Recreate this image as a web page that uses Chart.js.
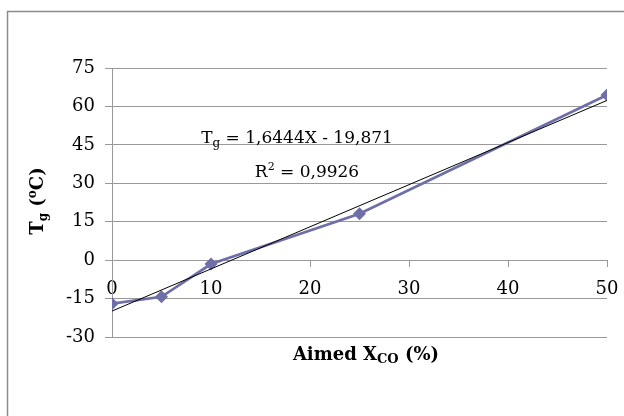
<!DOCTYPE html>
<html>
<head>
<meta charset="utf-8">
<script src="https://cdn.jsdelivr.net/npm/chart.js@4/dist/chart.umd.min.js"></script>
<style>
  html, body { margin: 0; padding: 0; background: #ffffff; }
  #wrap { width: 624px; height: 416px; position: relative; }
</style>
</head>
<body>
<div id="wrap"><canvas id="chart" width="624" height="416"></canvas></div>
<script>
// Measured glass transition temperature against aimed CO content
const aimedXco = [0, 5, 10, 25, 50];
const tgValues = [-17.0, -14.3, -1.5, 18.1, 64.5];

// Linear trendline as stated in the equation label
const trendSlope = 1.6444;
const trendIntercept = -19.871;
const trendRange = [0, 50];
const rSquared = '0,9926';

const yTicks = [-30, -15, 0, 15, 30, 45, 60, 75];
const xTicks = [0, 10, 20, 30, 40, 50];

const SERIF = '"DejaVu Serif", Georgia, serif';
const GRID = '#9a9a9a';
const SERIES = '#6e6ea8';

const trendPoints = trendRange.map(x => ({ x: x, y: trendSlope * x + trendIntercept }));
const seriesPoints = aimedXco.map((x, i) => ({ x: x, y: tgValues[i] }));

function fmtComma(n) { return String(n).replace('.', ','); }

// Draws a run of text pieces with their own size / baseline shift
function drawRich(ctx, parts, cx, cy, weight) {
  let total = 0;
  parts.forEach(p => {
    ctx.font = weight + ' ' + p.size + 'px ' + SERIF;
    p.w = ctx.measureText(p.t).width;
    total += p.w;
  });
  let x = cx - total / 2;
  ctx.textAlign = 'left';
  ctx.textBaseline = 'alphabetic';
  parts.forEach(p => {
    ctx.font = weight + ' ' + p.size + 'px ' + SERIF;
    ctx.fillText(p.t, x, cy + (p.dy || 0));
    x += p.w;
  });
}

const decorations = {
  id: 'decorations',
  beforeDraw(chart) {
    const ctx = chart.ctx;
    ctx.save();
    ctx.strokeStyle = '#8c8c8c';
    ctx.lineWidth = 1.5;
    ctx.beginPath();
    ctx.moveTo(7.5, 430);
    ctx.lineTo(7.5, 11.5);
    ctx.lineTo(640, 11.5);
    ctx.stroke();
    ctx.restore();
  },
  afterDraw(chart) {
    const ctx = chart.ctx;
    ctx.save();
    ctx.fillStyle = '#000000';
    // trendline equation
    drawRich(ctx, [
      { t: 'T', size: 17 },
      { t: 'g', size: 12, dy: 4 },
      { t: ' = ' + fmtComma(trendSlope) + 'X - ' + fmtComma(-trendIntercept), size: 17 }
    ], 297, 143, 'normal');
    drawRich(ctx, [
      { t: 'R', size: 17 },
      { t: '2', size: 11, dy: -7 },
      { t: ' = ' + rSquared, size: 17 }
    ], 307, 177, 'normal');
    // x axis title
    drawRich(ctx, [
      { t: 'Aimed X', size: 18 },
      { t: 'CO', size: 13, dy: 3 },
      { t: ' (%)', size: 18 }
    ], 366, 360, 'bold');
    // y axis title
    ctx.translate(43, 201);
    ctx.rotate(-Math.PI / 2);
    drawRich(ctx, [
      { t: 'T', size: 18 },
      { t: 'g', size: 12, dy: 4 },
      { t: ' (', size: 18 },
      { t: 'o', size: 12, dy: -7 },
      { t: 'C)', size: 18 }
    ], 0, 0, 'bold');
    ctx.restore();
  }
};

new Chart(document.getElementById('chart'), {
  type: 'scatter',
  data: {
    datasets: [
      {
        label: 'Linear (Tg)',
        data: trendPoints,
        showLine: true,
        borderColor: '#000000',
        borderWidth: 1,
        pointRadius: 0,
        order: 0
      },
      {
        label: 'Tg',
        data: seriesPoints,
        showLine: true,
        borderColor: SERIES,
        backgroundColor: SERIES,
        borderWidth: 2.75,
        pointStyle: 'rectRot',
        pointRadius: 6.5,
        pointBorderWidth: 0,
        order: 1
      }
    ]
  },
  options: {
    responsive: false,
    animation: false,
    events: [],
    layout: { padding: { left: 0, right: 17, top: 68, bottom: 79 } },
    plugins: { legend: { display: false }, tooltip: { enabled: false }, title: { display: false } },
    scales: {
      x: {
        type: 'linear',
        position: { y: 0 },
        min: 0,
        max: 50,
        afterBuildTicks(scale) { scale.ticks = xTicks.map(v => ({ value: v })); },
        afterFit(scale) { scale.paddingLeft = 0; scale.paddingRight = 0; },
        grid: { drawOnChartArea: false, color: GRID, tickLength: 6, tickColor: GRID },
        border: { color: GRID, width: 1 },
        ticks: { color: '#000000', padding: 12, maxRotation: 0, font: { family: SERIF, size: 18 } }
      },
      y: {
        type: 'linear',
        position: 'left',
        min: -30,
        max: 75,
        afterBuildTicks(scale) { scale.ticks = yTicks.map(v => ({ value: v })); },
        afterFit(scale) { scale.width = 112; },
        grid: { color: GRID, tickLength: 7, tickColor: GRID },
        border: { color: GRID, width: 1 },
        ticks: { color: '#000000', padding: 10, font: { family: SERIF, size: 18 } }
      }
    }
  },
  plugins: [decorations]
});
</script>
</body>
</html>
